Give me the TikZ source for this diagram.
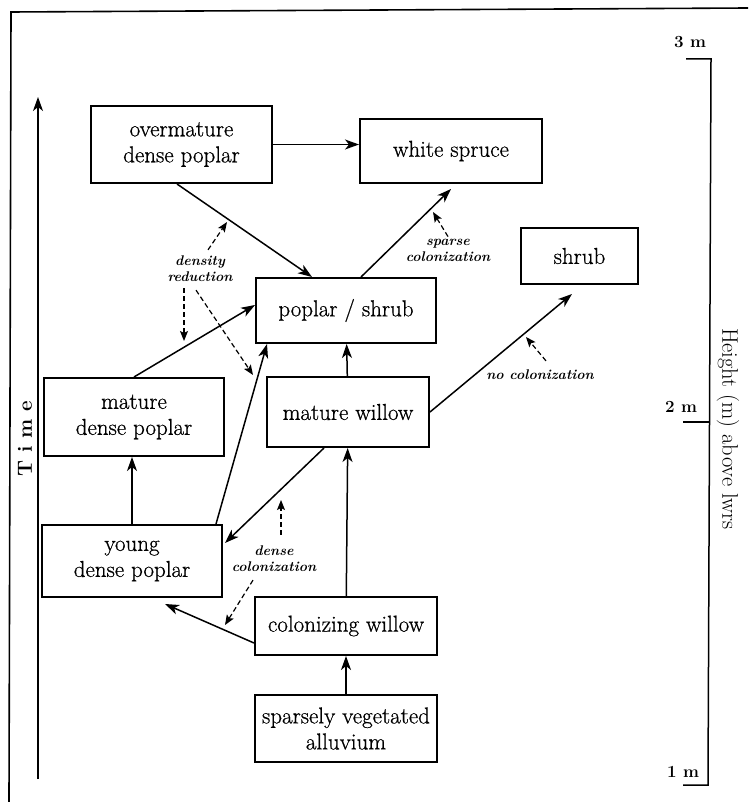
\documentclass[tikz,border=0pt]{standalone}
\usepackage{fontspec}
\newfontfamily\boxfont{Latin Modern Roman}[FakeBold=0.7]
\usetikzlibrary{arrows.meta}
\begin{document}
\begin{tikzpicture}[x=1pt,y=-1pt,
    box/.style={draw, line width=2pt, inner sep=0pt, align=center, font=\boxfont\fontsize{23}{26}\selectfont},
    note/.style={inner sep=2pt, align=center, font=\fontsize{14}{16}\selectfont\bfseries\itshape},
    scalelbl/.style={inner sep=0pt, font=\fontsize{17}{19}\selectfont\bfseries},
    arr/.style={line width=1.5pt, -{Stealth[length=14pt,width=10pt,inset=4pt]}},
    hint/.style={line width=1.2pt, dash pattern=on 5pt off 3pt, -{Stealth[length=10pt,width=8pt,inset=2pt]}}]
\useasboundingbox (0,0) rectangle (748,802);

\draw[line width=1.6pt] (748,8) -- (11,12) -- (9,802);
\draw[line width=1.5pt] (686,59) -- (711,59) -- (708,785) -- (683,785); \draw[line width=1.5pt] (683,422) -- (710,422);
\node[scalelbl] (m3) at (690,42) {3 m}; \node[scalelbl] (m2) at (681,407) {2 m}; \node[scalelbl] (m1) at (683,772) {1 m};
\node[rotate=-90, font=\fontsize{22.5}{24}\selectfont] (height) at (728,429) {Height (m) above lwrs};
\coordinate (t0) at (38,779); \coordinate (t1) at (38,97);
\node[rotate=90, font=\fontsize{20.5}{22}\selectfont\bfseries] (time) at (25,439) {T i m e};

\node[box, minimum width=181, minimum height=77] (over) at (181.5,144.5) {overmature\\dense poplar}; \node[box, minimum width=182, minimum height=64] (spruce) at (451,151) {white spruce};
\node[box, minimum width=117, minimum height=56] (shrub) at (579.5,256) {shrub}; \node[box, minimum width=180, minimum height=65] (popshrub) at (346,310.5) {poplar / shrub};
\node[box, minimum width=180, minimum height=78] (matpop) at (134,417) {mature\\dense poplar}; \node[box, minimum width=162, minimum height=70] (matwil) at (348,412) {mature willow};
\node[box, minimum width=180, minimum height=72] (younpop) at (132,561) {young\\dense poplar}; \node[box, minimum width=182, minimum height=58] (colwil) at (346,626) {colonizing willow};
\node[box, minimum width=182, minimum height=67] (alluv) at (346,728.5) {sparsely vegetated\\alluvium};

\node[note] (dens) at (200,269) {density\\reduction}; \node[note] (sparse) at (448,250) {sparse\\colonization};
\node[note] (nocol) at (540,375) {no colonization}; \node[note] (dense) at (274,559) {dense\\colonization};
\coordinate (dr1) at (227,222); \coordinate (dr2) at (184,341); \coordinate (dr3) at (253,375);
\coordinate (sc1) at (433,212); \coordinate (nc1) at (526,337); \coordinate (dc1) at (281,500); \coordinate (dc2) at (225,625);

\draw[arr] (t0) to (t1);
\draw[arr] (over.east) to (over.east -| spruce.west); \draw[arr] ([xshift=-4.5pt]over.south) to ([xshift=-34pt]popshrub.north);
\draw[arr] ([xshift=15pt]popshrub.north) to ([yshift=-5pt]spruce.south);
\draw[arr] (matpop.north) to ([yshift=5.5pt]popshrub.west); \draw[arr] (younpop.north) to (younpop.north |- matpop.south);
\draw[arr] ([xshift=-7pt]younpop.north east) to ([xshift=-79pt]popshrub.south);
\draw[arr] (matwil) to (popshrub); \draw[arr] (matwil.east) to ([xshift=-7.5pt,yshift=-9pt]shrub.south);
\draw[arr] ([xshift=-24pt]matwil.south) to ([xshift=2pt,yshift=18pt]younpop.east);
\draw[arr] (colwil) to (matwil); \draw[arr] ([yshift=-17pt]colwil.west) to ([xshift=33pt,yshift=-6pt]younpop.south);
\draw[arr] (alluv) to (colwil);

\draw[hint] ([xshift=8pt,yshift=4pt]dens.north) to (dr1); \draw[hint] ([xshift=-16pt,yshift=-4pt]dens.south) to (dr2);
\draw[hint] ([xshift=-4pt,yshift=-6pt]dens.south) to (dr3);
\draw[hint] (sparse.north) to (sc1); \draw[hint] ([xshift=6pt,yshift=7pt]nocol.north) to (nc1);
\draw[hint] ([xshift=7pt,yshift=9pt]dense.north) to (dc1); \draw[hint] ([xshift=-21pt,yshift=-6pt]dense.south) to (dc2);
\end{tikzpicture}
\end{document}
